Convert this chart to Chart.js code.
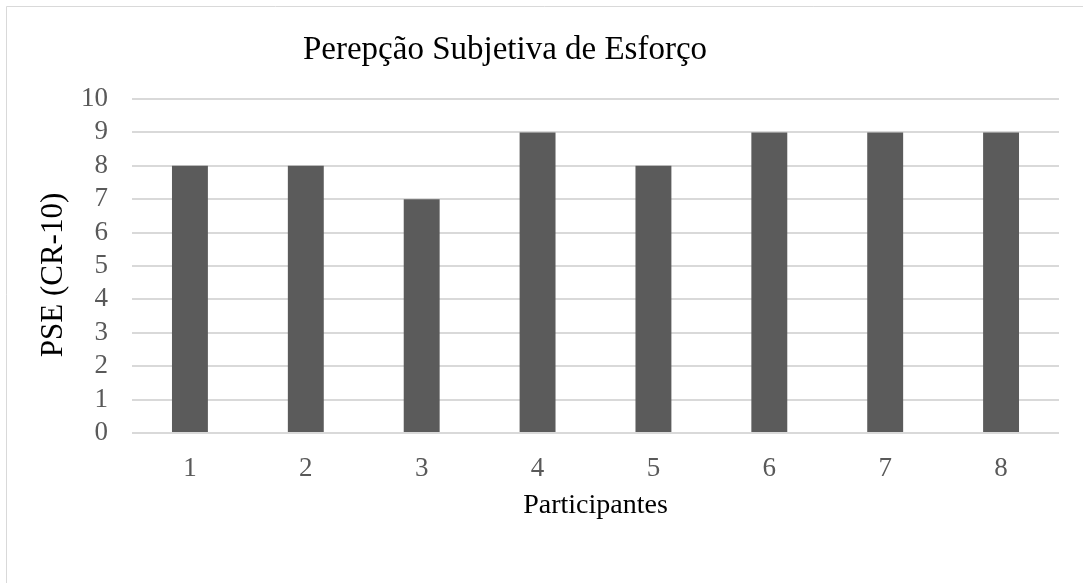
<!DOCTYPE html>
<html lang="pt">
<head>
<meta charset="utf-8">
<title>Perepção Subjetiva de Esforço</title>
<script src="https://cdn.jsdelivr.net/npm/chart.js@4"></script>
<style>
  html, body { margin: 0; padding: 0; background: #ffffff; }
  #wrap { position: relative; width: 1083px; height: 583px; }
  canvas { display: block; }
</style>
</head>
<body>
<div id="wrap"><canvas id="chart" width="1083" height="583"></canvas></div>
<script>
// Participants and their perceived exertion (CR-10 scale)
const participants = ['1', '2', '3', '4', '5', '6', '7', '8'];
const pseValues = [8, 8, 7, 9, 8, 9, 9, 9];
const chartTitle = 'Perepção Subjetiva de Esforço';
const yAxisTitle = 'PSE (CR-10)';
const xAxisTitle = 'Participantes';

const serif = "'Liberation Serif', 'Times New Roman', serif";

// Frame lines, the chart heading and the vertical axis caption
const framePlugin = {
  id: 'frame',
  beforeDraw(chart) {
    const ctx = chart.ctx;
    ctx.save();
    ctx.fillStyle = '#ffffff';
    ctx.fillRect(0, 0, chart.width, chart.height);
    ctx.strokeStyle = '#d9d9d9';
    ctx.lineWidth = 1;
    ctx.beginPath();
    ctx.moveTo(6.5, chart.height);
    ctx.lineTo(6.5, 6.5);
    ctx.lineTo(chart.width, 6.5);
    ctx.stroke();
    ctx.restore();
  },
  afterDraw(chart) {
    const ctx = chart.ctx;
    ctx.save();
    ctx.font = '33px ' + serif;
    ctx.fillStyle = '#000000';
    ctx.textAlign = 'center';
    ctx.textBaseline = 'alphabetic';
    ctx.fillText(chartTitle, 505, 59);
    ctx.translate(54, 275);
    ctx.rotate(-Math.PI / 2);
    ctx.font = '31px ' + serif;
    ctx.textBaseline = 'middle';
    ctx.fillText(yAxisTitle, 0, 0);
    ctx.restore();
  }
};

new Chart(document.getElementById('chart'), {
  type: 'bar',
  data: {
    labels: participants,
    datasets: [{
      label: yAxisTitle,
      data: pseValues,
      backgroundColor: '#5b5b5b',
      borderWidth: 0,
      barPercentage: 0.31,
      categoryPercentage: 1.0
    }]
  },
  plugins: [framePlugin],
  options: {
    responsive: false,
    animation: false,
    layout: { padding: { top: 99, right: 24, bottom: 0, left: 0 } },
    plugins: {
      legend: { display: false },
      tooltip: { enabled: false },
      title: { display: false }
    },
    scales: {
      x: {
        afterFit(scale) { scale.height = 150; },
        grid: { display: false, drawTicks: false },
        border: { display: false },
        ticks: {
          color: '#595959',
          font: { family: serif, size: 27 },
          padding: 20,
          maxRotation: 0
        },
        title: {
          display: true,
          text: xAxisTitle,
          color: '#000000',
          font: { family: serif, size: 28 },
          padding: { top: 0, bottom: 61 }
        }
      },
      y: {
        min: 0,
        max: 10,
        afterFit(scale) { scale.width = 132; },
        grid: { color: '#d9d9d9', lineWidth: 2, drawTicks: false },
        border: { display: false },
        ticks: {
          stepSize: 1,
          autoSkip: false,
          color: '#595959',
          font: { family: serif, size: 27 },
          padding: 24
        },
        title: { display: false }
      }
    }
  }
});
</script>
</body>
</html>
